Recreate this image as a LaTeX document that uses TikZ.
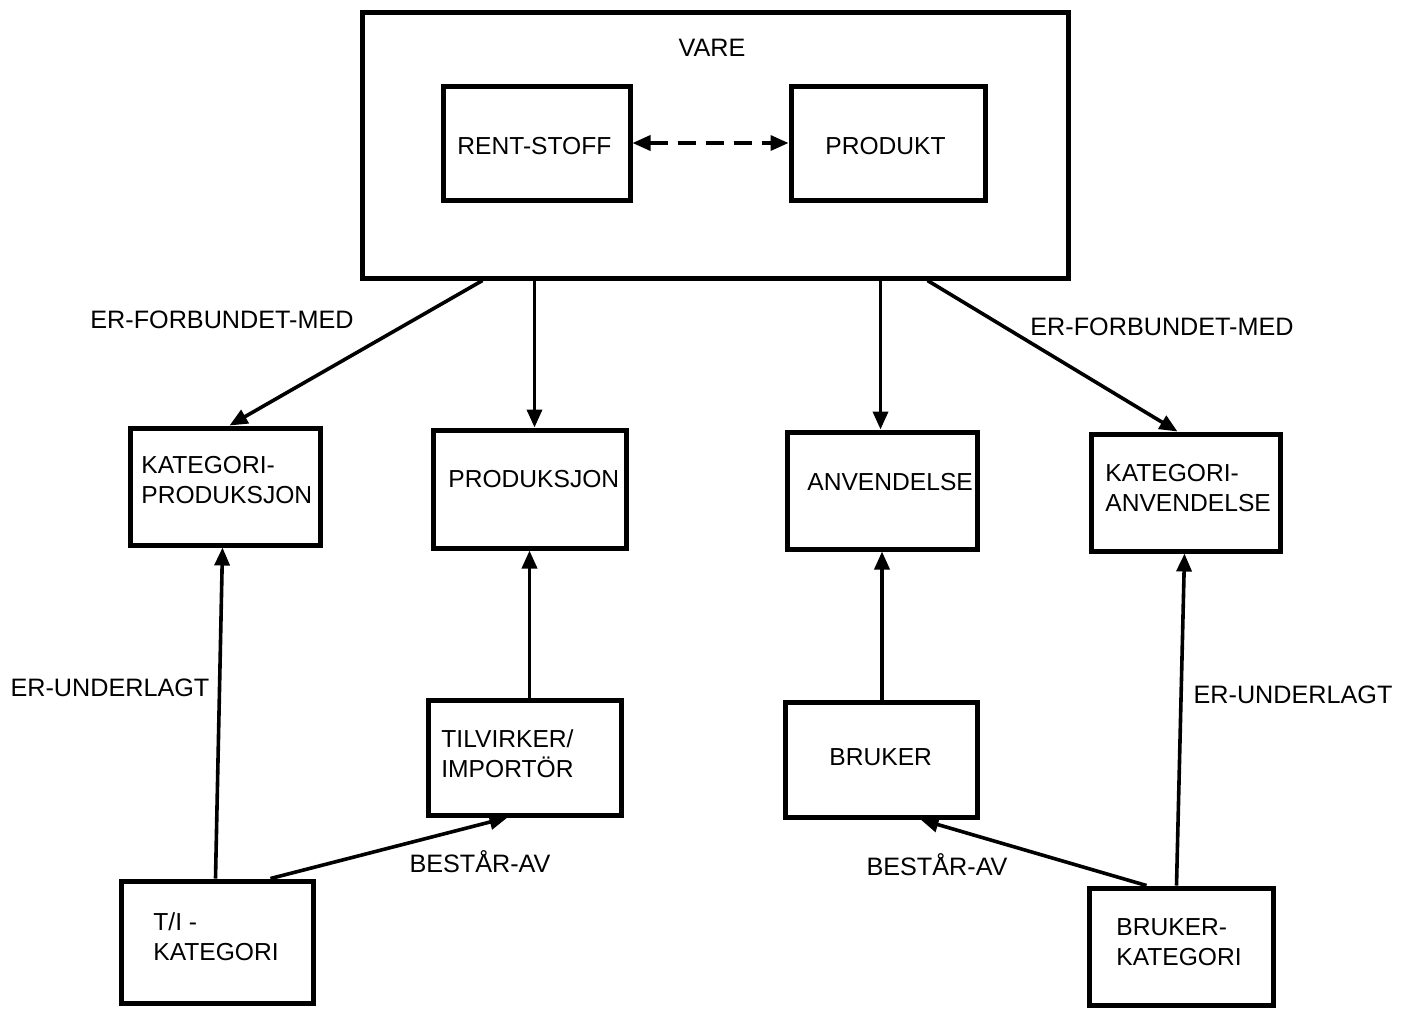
\documentclass[tikz,border=0pt]{standalone}
\usepackage{fontspec}
\setmainfont{Liberation Sans}
\usetikzlibrary{arrows.meta,calc}
\begin{document}
\begin{tikzpicture}[x=0.5pt,y=-0.5pt,
  box/.style={draw, line width=2.5pt, inner sep=0pt},
  txt/.style={inner sep=0pt, anchor=west, align=left, font=\fontsize{12.3}{15}\selectfont},
  lbl/.style={inner sep=0pt, font=\fontsize{12.6}{15}\selectfont},
  tip/.style={Triangle[length=9pt,width=7.5pt]},
  arr/.style={line width=1.8pt, -{Triangle[length=9pt,width=7.5pt]}},
  darr/.style={line width=1.8pt, dash pattern=on 9pt off 5pt, {Triangle[length=9pt,width=7.5pt]}-{Triangle[length=9pt,width=7.5pt]}}]
\useasboundingbox (0,0) rectangle (1411,1008);
\fill[white] (0,0) rectangle (1411,1008);

% outer entity and its two subtypes
\node[box, minimum width=353pt, minimum height=133pt] (vare) at (715,145) {};
\node[lbl] (varelbl) at (712,48) {VARE};
\node[box, minimum width=93.5pt, minimum height=57pt] (rent) at (536.5,143) {};
\node[txt] (rent-t) at (457,146) {RENT-STOFF};
\node[box, minimum width=97pt, minimum height=57pt] (produkt) at (888,143) {};
\node[txt] (produkt-t) at (825,146) {PRODUKT};

% middle row
\node[box, minimum width=95pt, minimum height=58.5pt] (katprod) at (225,486.5) {};
\node[txt] (katprod-t) at (141,480) {KATEGORI-\\PRODUKSJON};
\node[box, minimum width=96.5pt, minimum height=59pt] (produksjon) at (529.5,489) {};
\node[txt] (produksjon-t) at (448,479) {PRODUKSJON};
\node[box, minimum width=95pt, minimum height=58.5pt] (anvendelse) at (882,490.5) {};
\node[txt] (anvendelse-t) at (807,482) {ANVENDELSE};
\node[box, minimum width=94.5pt, minimum height=58.5pt] (katanv) at (1185.5,492.5) {};
\node[txt] (katanv-t) at (1105,488) {KATEGORI-\\ANVENDELSE};

% lower rows
\node[box, minimum width=96.5pt, minimum height=57.5pt] (tilvirker) at (524.5,757.5) {};
\node[txt] (tilvirker-t) at (441,754) {TILVIRKER/\\IMPORTÖR};
\node[box, minimum width=96pt, minimum height=57.5pt] (bruker) at (881,759.5) {};
\node[txt] (bruker-t) at (829,757) {BRUKER};
\node[box, minimum width=96pt, minimum height=61pt] (tikat) at (217,942) {};
\node[txt] (tikat-t) at (153,937) {T/I -\\KATEGORI};
\node[box, minimum width=92pt, minimum height=58.5pt] (brukat) at (1181,946.5) {};
\node[txt] (brukat-t) at (1116,942) {BRUKER-\\KATEGORI};

% relation labels
\node[lbl] (l1) at (222,320) {ER-FORBUNDET-MED};
\node[lbl] (l2) at (1162,327) {ER-FORBUNDET-MED};
\node[lbl] (l3) at (110,688) {ER-UNDERLAGT};
\node[lbl] (l4) at (1293,695) {ER-UNDERLAGT};
\node[lbl] (l5) at (480,862) {BESTÅR-AV};
\node[lbl] (l6) at (937,865) {BESTÅR-AV};

% connectors
\draw[darr] (rent.east) -- (produkt.west);
\draw[arr] ($(vare.south west)+(123,0)$) -- ($(katprod.north west)+(102,0)$);
\draw[arr] ($(vare.south west)+(175,0)$) -- ($(produksjon.north west)+(104,0)$);
\draw[arr] ($(vare.south west)+(521,0)$) -- ($(anvendelse.north west)+(96,0)$);
\draw[arr] ($(vare.south west)+(568,0)$) -- ($(katanv.north west)+(89,0)$);
\draw[arr] ($(tikat.north west)+(97,0)$) -- ($(katprod.south west)+(95,0)$);
\draw[arr] (tilvirker.north -| produksjon.south) -- (produksjon.south);
\draw[arr] (bruker.north -| anvendelse.south) -- (anvendelse.south);
\draw[arr] ($(brukat.north west)+(90,0)$) -- ($(katanv.south west)+(96,0)$);
\draw[arr] ($(tikat.north west)+(152,0)$) -- ($(tilvirker.south west)+(82,0)$);
\draw[arr] ($(brukat.north west)+(60,0)$) -- ($(bruker.south west)+(138,0)$);
\end{tikzpicture}
\end{document}
